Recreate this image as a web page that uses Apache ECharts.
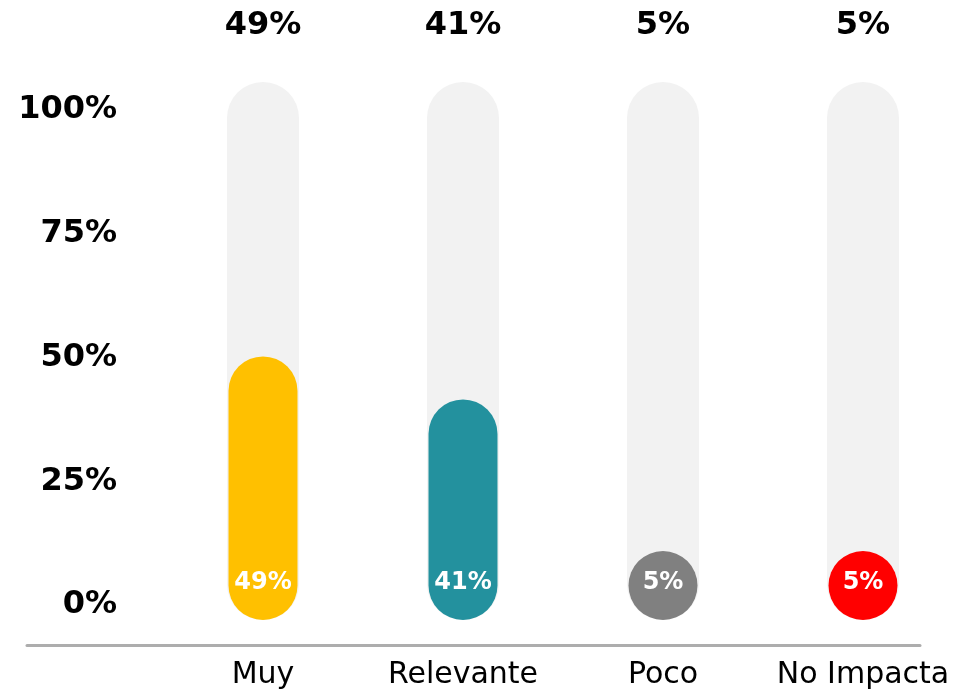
<!DOCTYPE html>
<html>
<head>
<meta charset="utf-8">
<script src="https://cdn.jsdelivr.net/npm/echarts@6/dist/echarts.min.js"></script>
<style>
  html, body { margin: 0; padding: 0; background: #fff; }
  #chart { width: 963px; height: 694px; }
</style>
</head>
<body>
<div id="chart"></div>
<script>
// datos del gráfico
let categories = ['Muy', 'Relevante', 'Poco', 'No Impacta']
let values = [49, 41, 5, 5]
let trackValues = [100, 100, 100, 100]
let yTicks = [0, 25, 50, 75, 100]
let barColors = ['#FFC000', '#23919E', '#808080', '#FF0000']

let font = 'DejaVu Sans'
let chart = echarts.init(document.getElementById('chart'))

let option = {
  animation: false,
  backgroundColor: '#fff',
  grid: [
    // eje de porcentajes + línea base
    { left: 27, right: 43, top: 110, bottom: 89 },
    // barras
    { left: 163, right: 0, top: 82, bottom: 74 }
  ],
  xAxis: [
    {
      gridIndex: 0,
      type: 'category',
      data: categories,
      offset: 40,
      axisLine: { show: true, onZero: false, lineStyle: { color: '#ADADAD', width: 3 } },
      axisTick: { show: false },
      axisLabel: { show: false }
    },
    {
      gridIndex: 1,
      type: 'category',
      data: categories,
      axisLine: { show: false },
      axisTick: { show: false },
      axisLabel: {
        interval: 0,
        margin: 40,
        color: '#000',
        fontSize: 30,
        fontFamily: font
      }
    },
    {
      gridIndex: 1,
      type: 'category',
      data: categories,
      show: false
    }
  ],
  yAxis: [
    {
      gridIndex: 0,
      type: 'value',
      min: yTicks[0],
      max: yTicks[yTicks.length - 1],
      interval: 25,
      splitLine: { show: false },
      axisLine: { show: false },
      axisTick: { show: false },
      axisLabel: {
        inside: true,
        align: 'right',
        margin: 90,
        formatter: '{value}%',
        color: '#000',
        fontSize: 32,
        fontWeight: 'bold',
        fontFamily: font
      }
    },
    {
      gridIndex: 1,
      type: 'value',
      min: 0,
      max: 100,
      show: false
    }
  ],
  series: [
    {
      name: 'fondo',
      type: 'bar',
      xAxisIndex: 2,
      yAxisIndex: 1,
      barWidth: 72,
      silent: true,
      data: trackValues,
      itemStyle: { color: '#F2F2F2', borderRadius: 36 },
      label: {
        show: true,
        position: 'top',
        distance: 40,
        formatter: p => values[p.dataIndex] + '%',
        color: '#000',
        fontSize: 32,
        fontWeight: 'bold',
        fontFamily: font
      }
    },
    {
      name: 'valor',
      type: 'bar',
      xAxisIndex: 1,
      yAxisIndex: 1,
      barWidth: 69,
      barMinHeight: 69,
      data: values.map((v, i) => ({
        value: v,
        itemStyle: { color: barColors[i] }
      })),
      itemStyle: { borderRadius: 34.5 },
      label: {
        show: true,
        position: 'insideBottom',
        distance: 25,
        formatter: '{c}%',
        color: '#fff',
        fontSize: 24,
        fontWeight: 'bold',
        fontFamily: font
      }
    }
  ]
}
chart.setOption(option)
</script>
</body>
</html>
